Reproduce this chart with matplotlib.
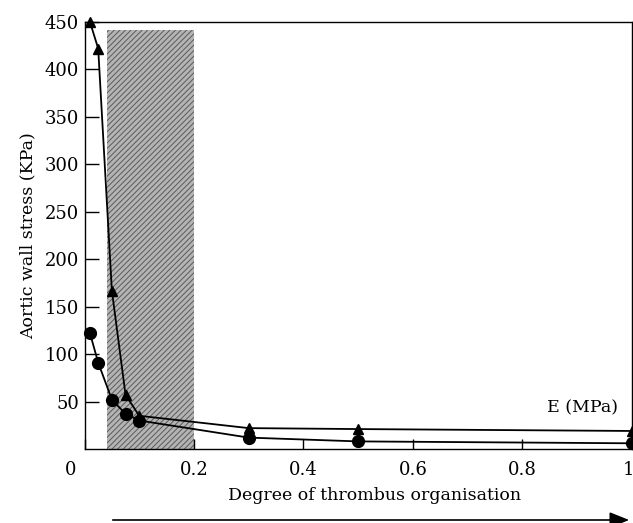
import numpy as np
import matplotlib.pyplot as plt
import matplotlib.transforms as mtransforms

# ---------------------------------------------------------------------
# Datos
# ---------------------------------------------------------------------
e_mpa = [0.01, 0.025, 0.05, 0.075, 0.1, 0.3, 0.5, 1.0]
stress_tri = [450, 422, 167, 57, 35, 22, 21, 19]
stress_circ = [122, 91, 52, 37, 30, 12, 8, 6]

band_x0, band_x1, band_top = 0.042, 0.2, 442

xticks = [0, 0.2, 0.4, 0.6, 0.8, 1.0]
xticklabels = ["0", "0.2", "0.4", "0.6", "0.8", "1"]
yticks = [50, 100, 150, 200, 250, 300, 350, 400, 450]

plt.rcParams["font.family"] = ["DejaVu Serif"]
plt.rcParams["hatch.linewidth"] = 0.7

fig = plt.figure(figsize=(6.33, 5.23), dpi=100)
ax = fig.add_axes([0.1335, 0.1415, 0.8645, 0.8165])

# zona sombreada
ax.bar(band_x0, band_top, width=band_x1 - band_x0, align="edge",
       facecolor="#b4b4b4", edgecolor="#5a5a5a", hatch="//////",
       linewidth=0, zorder=1)

ax.plot(e_mpa, stress_tri, color="black", lw=1.3, marker="^",
        markersize=7.5, zorder=3, clip_on=False)
ax.plot(e_mpa, stress_circ, color="black", lw=1.3, marker="o",
        markersize=8.5, zorder=3, clip_on=False)

ax.set_xlim(0, 1)
ax.set_ylim(0, 450)
ax.set_xticks(xticks)
ax.set_xticklabels(xticklabels)
ax.set_yticks(yticks)

ax.tick_params(axis="y", direction="in", length=10, width=1, labelsize=13, pad=4)
ax.tick_params(axis="x", direction="in", length=7, width=1, labelsize=13, pad=9)

# la etiqueta "0" queda desplazada a la izquierda del eje, la "1" hacia dentro
labels = ax.get_xticklabels()
labels[0].set_transform(labels[0].get_transform() +
                        mtransforms.ScaledTranslation(-0.14, 0, fig.dpi_scale_trans))
labels[-1].set_transform(labels[-1].get_transform() +
                         mtransforms.ScaledTranslation(-0.03, 0, fig.dpi_scale_trans))

for s in ax.spines.values():
    s.set_linewidth(1.0)

ax.set_ylabel("Aortic wall stress (KPa)", fontsize=12.5, labelpad=6)
ax.set_xlabel("Degree of thrombus organisation", fontsize=12.5)
ax.xaxis.set_label_coords(0.53, -0.09)

ax.text(0.975, 43, "E (MPa)", ha="right", va="center", fontsize=12.5)

# flecha bajo el eje x
fig.patches.append(plt.matplotlib.patches.FancyArrowPatch(
    (110 / 633, 1 - 520 / 523), (632 / 633, 1 - 520 / 523),
    transform=fig.transFigure, arrowstyle="-|>,head_length=1.0,head_width=0.4",
    mutation_scale=12, color="black", lw=1.2))

fig.savefig("out.png", dpi=100)
